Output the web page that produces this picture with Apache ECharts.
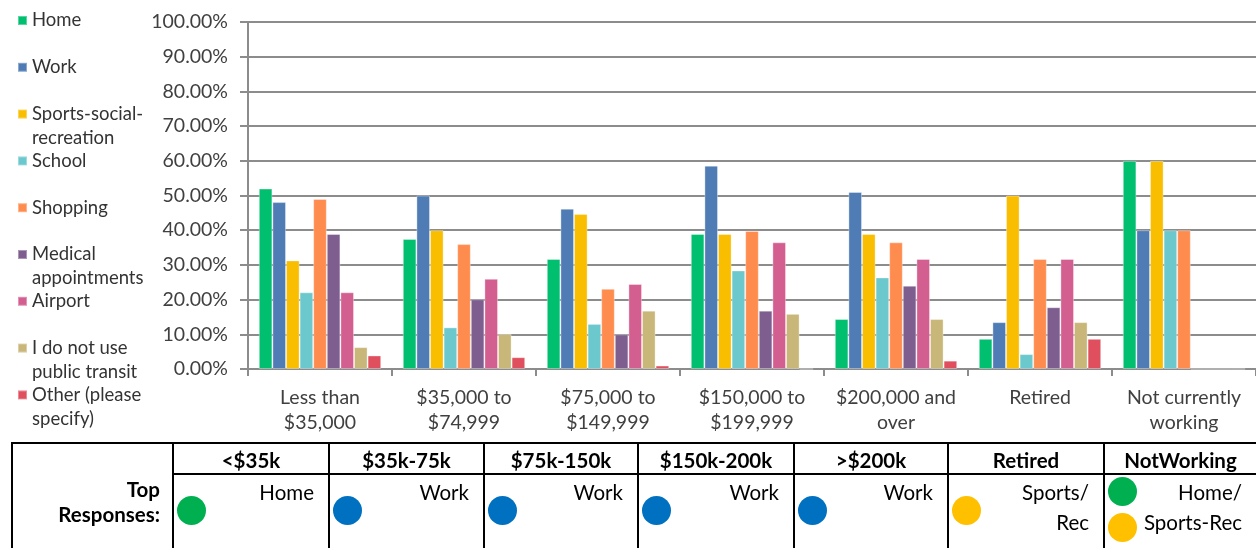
<!DOCTYPE html>
<html>
<head>
<meta charset="utf-8">
<script src="https://cdn.jsdelivr.net/npm/echarts@6/dist/echarts.min.js"></script>
<style>
  html, body { margin: 0; padding: 0; background: #fff; }
  #wrap { position: relative; width: 1256px; height: 548px; overflow: hidden; font-family: Lato, "Open Sans", sans-serif; }
  #chart { position: absolute; left: 0; top: 0; width: 1256px; height: 548px; }
  .hline, .vline { position: absolute; background: #000; }
  .head { position: absolute; top: 444px; height: 31px; line-height: 33px; text-align: center; font-weight: bold; font-size: 20.5px; color: #000; }
  .cell { position: absolute; top: 477px; text-align: right; font-size: 20.5px; line-height: 30px; color: #000; }
  .dot { position: absolute; width: 29px; height: 29px; border-radius: 50%; }
  .rowlabel { position: absolute; left: 0; width: 160px; top: 477px; text-align: right; font-weight: bold; font-size: 20.5px; line-height: 25px; color: #000; }
</style>
</head>
<body>
<div id="wrap">
  <div id="chart"></div>
  <div id="table"></div>
</div>
<script>
const categories = ["Less than\n$35,000", "$35,000 to\n$74,999", "$75,000 to\n$149,999", "$150,000 to\n$199,999", "$200,000 and\nover", "Retired", "Not currently\nworking"];
const seriesNames = ["Home", "Work", "Sports-social-recreation", "School", "Shopping", "Medical appointments", "Airport", "I do not use public transit", "Other (please specify)"];
const legendLabels = ["Home", "Work", "Sports-social-\nrecreation", "School", "Shopping", "Medical\nappointments", "Airport", "I do not use\npublic transit", "Other (please\nspecify)"];
const seriesColors = ["#00bf6f", "#507cb6", "#f9be00", "#6bc8cd", "#ff8c4f", "#7d5e8f", "#d35e90", "#c9b77a", "#df4f5e"];

// percent of respondents, one array per destination, in category order
const home     = [52.0, 37.5, 31.7, 38.9, 14.4, 8.7, 60.0];
const work     = [48.1, 50.0, 46.2, 58.6, 51.0, 13.5, 40.0];
const sports   = [31.3, 40.0, 44.7, 38.9, 38.9, 50.0, 60.0];
const school   = [22.1, 12.0, 13.0, 28.4, 26.4, 4.3, 40.0];
const shopping = [49.0, 36.0, 23.1, 39.8, 36.5, 31.7, 40.0];
const medical  = [38.9, 20.1, 10.0, 16.8, 24.0, 17.8, 0];
const airport  = [22.1, 26.0, 24.5, 36.5, 31.7, 31.7, 0];
const noTransit = [6.3, 10.1, 16.8, 15.9, 14.4, 13.5, 0];
const other    = [3.9, 3.4, 1.0, 0, 2.4, 8.7, 0];
const seriesData = [home, work, sports, school, shopping, medical, airport, noTransit, other];

// summary table under the chart
const tableHeads = ["<$35k", "$35k-75k", "$75k-150k", "$150k-200k", ">$200k", "Retired", "NotWorking"];
const topResponses = ["Home", "Work", "Work", "Work", "Work", "Sports/\nRec", "Home/\nSports-Rec"];
const topDots = [["#00b050"], ["#0070c0"], ["#0070c0"], ["#0070c0"], ["#0070c0"], ["#ffc000"], ["#00b050", "#ffc000"]];

const FONT = "Lato";
const TEXT = "#404040";

const legendLineY = 20.5;
const legendStep = 46.8;
const legendLineH = 24;

const chart = echarts.init(document.getElementById("chart"));

// one legend per item so that two-line names keep the marker on the first line
const legends = seriesNames.map((name, i) => {
  const multi = legendLabels[i].includes("\n");
  const centerY = legendLineY + i * legendStep;
  return {
    data: [name],
    orient: "vertical",
    left: 17,
    top: multi ? centerY - legendLineH * 1.5 : centerY - legendLineH / 2,
    padding: 0,
    icon: "rect",
    itemWidth: 9,
    itemHeight: 9,
    selectedMode: false,
    formatter: () => (multi ? "\u00a0\n" : "") + legendLabels[i],
    textStyle: {
      fontFamily: FONT,
      fontSize: 18.5,
      color: "#333",
      lineHeight: legendLineH,
    },
  };
});

chart.setOption({
  animation: false,
  legend: legends,
  grid: { left: 248, right: 0, top: 22, bottom: 179, containLabel: false },
  xAxis: {
    type: "category",
    data: categories,
    axisLine: { lineStyle: { color: "#8c8c8c", width: 2 } },
    axisTick: { show: true, length: 7, lineStyle: { color: "#8c8c8c", width: 2 } },
    axisLabel: { fontFamily: FONT, fontSize: 19.5, color: TEXT, lineHeight: 25, margin: 16, interval: 0 },
  },
  yAxis: {
    type: "value",
    min: 0,
    max: 100,
    interval: 10,
    axisLine: { show: true, lineStyle: { color: "#8c8c8c", width: 2 } },
    axisTick: { show: true, length: 8, lineStyle: { color: "#8c8c8c", width: 2 } },
    splitLine: { lineStyle: { color: "#8c8c8c", width: 2 } },
    axisLabel: {
      fontFamily: FONT,
      fontSize: 19.5,
      color: TEXT,
      margin: 20,
      formatter: (v) => v.toFixed(2) + "%",
    },
  },
  series: seriesNames.map((name, i) => ({
    name,
    type: "bar",
    data: seriesData[i],
    barGap: "0%",
    barCategoryGap: "15%",
    itemStyle: { color: seriesColors[i], borderColor: "rgba(255,255,255,0.35)", borderWidth: 1 },
  })),
});

// table of top responses
const table = document.getElementById("table");
const colX = [172, 328, 483, 637, 793, 947, 1103, 1256];
function add(cls, style, html) {
  const d = document.createElement("div");
  d.className = cls;
  Object.assign(d.style, style);
  if (html != null) d.innerHTML = html;
  table.appendChild(d);
  return d;
}
add("hline", { left: "11px", top: "442px", width: "1245px", height: "2px" });
add("hline", { left: "172px", top: "473px", width: "1084px", height: "2px" });
add("vline", { left: "11px", top: "442px", width: "2px", height: "106px" });
colX.slice(0, 7).forEach((x) => add("vline", { left: x + "px", top: "442px", width: "2px", height: "106px" }));
add("rowlabel", {}, "Top<br>Responses:");
tableHeads.forEach((h, i) => {
  const l = colX[i] + 2, w = colX[i + 1] - colX[i] - 2;
  add("head", { left: l + "px", width: w + "px" }, h.replace("<", "&lt;").replace(">", "&gt;"));
  add("cell", { left: l + "px", width: (w - 14) + "px" }, topResponses[i].replace("\n", "<br>"));
  const dots = topDots[i];
  dots.forEach((c, k) => {
    const cy = dots.length > 1 ? 491 + k * 36 : 510;
    add("dot", { left: (colX[i] + 5) + "px", top: (cy - 14.5) + "px", background: c });
  });
});
</script>
</body>
</html>
